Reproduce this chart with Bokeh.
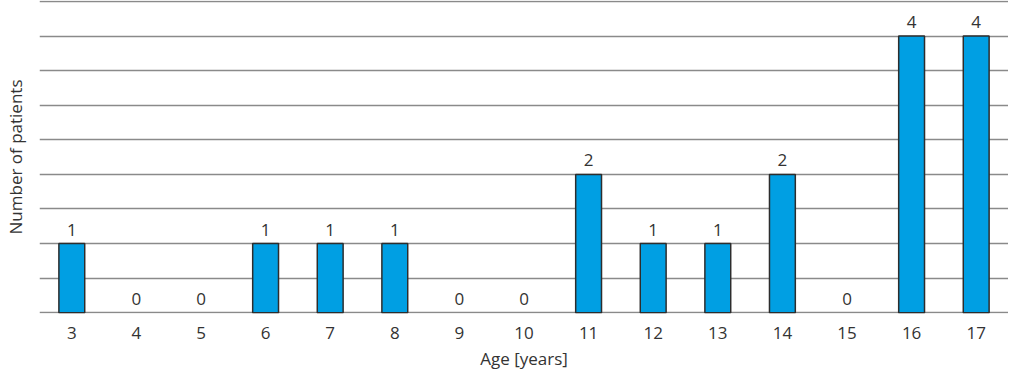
from bokeh.plotting import figure
from bokeh.models import FixedTicker, ColumnDataSource, Range1d
from bokeh.core.properties import value
from bokeh.embed import file_html
from bokeh.resources import INLINE

ages = ["3", "4", "5", "6", "7", "8", "9", "10", "11", "12", "13", "14", "15", "16", "17"]
patients = [1, 0, 0, 1, 1, 1, 0, 0, 2, 1, 1, 2, 0, 4, 4]
grid_ticks = [0, 0.5, 1, 1.5, 2, 2.5, 3, 3.5, 4, 4.5]
x_title = "Age [years]"
y_title = "Number of patients"

FONT = "Open Sans"
TXT = "#333333"

lab_src = ColumnDataSource(dict(x=ages, y=patients, lab=[str(v) for v in patients]))
bar_src = ColumnDataSource(dict(x=[a for a, v in zip(ages, patients) if v > 0],
                                y=[v for v in patients if v > 0]))

p = figure(width=1008, height=372, x_range=ages, y_range=Range1d(-0.012, 4.515),
           output_backend="svg", toolbar_location=None,
           min_border_left=0, min_border_right=0, min_border_top=0, min_border_bottom=0)
p.outline_line_color = None
p.xgrid.grid_line_color = None
p.ygrid.ticker = FixedTicker(ticks=grid_ticks)
p.ygrid.grid_line_color = "#8a8a8a"
p.ygrid.grid_line_width = 1.5

p.vbar(x="x", top="y", width=0.4, source=bar_src, fill_color="#009FE3",
       line_color="#2d2d2d", line_width=1.5)
p.text(x="x", y="y", text="lab", source=lab_src, text_align="center", text_baseline="bottom",
       y_offset=-8, text_font=value(FONT), text_font_size="17px", text_color=TXT)

p.yaxis.ticker = FixedTicker(ticks=[])
p.yaxis.axis_line_color = None
p.yaxis.major_tick_line_color = None
p.yaxis.minor_tick_line_color = None
p.yaxis.major_label_text_font_size = "0px"
p.yaxis.axis_label = y_title
p.yaxis.axis_label_text_font = FONT
p.yaxis.axis_label_text_font_size = "17px"
p.yaxis.axis_label_text_font_style = "normal"
p.yaxis.axis_label_text_color = TXT
p.yaxis.axis_label_standoff = 13

p.xaxis.axis_line_color = None
p.xaxis.major_tick_line_color = None
p.xaxis.minor_tick_line_color = None
p.xaxis.major_label_text_font = FONT
p.xaxis.major_label_text_font_size = "17px"
p.xaxis.major_label_text_color = TXT
p.xaxis.major_label_standoff = 7
p.xaxis.axis_label = x_title
p.xaxis.axis_label_text_font = FONT
p.xaxis.axis_label_text_font_size = "17px"
p.xaxis.axis_label_text_font_style = "normal"
p.xaxis.axis_label_text_color = TXT
p.xaxis.axis_label_standoff = 5

open("out.html", "w").write(file_html(p, INLINE))
